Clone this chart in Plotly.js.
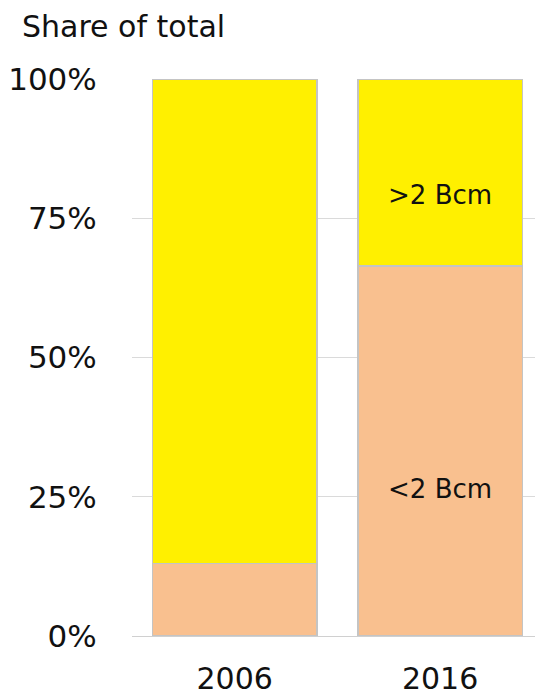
<!DOCTYPE html>
<html><head><meta charset="utf-8">
<script src="https://cdn.plot.ly/plotly-3.0.1.min.js"></script>
<style>html,body{margin:0;padding:0;background:#fff}</style>
</head><body>
<div id="chart" style="width:537px;height:696px"></div>
<script>
const years = ["2006", "2016"];
const below2 = [13, 66.4];
const above2 = [87, 33.6];
const tickValues = [0, 25, 50, 75, 100];
const tickLabels = ["0%", "25%", "50%", "75%", "100%"];
const segmentLabels = ["&gt;2 Bcm", "&lt;2 Bcm"];
const labelX = ["2016", "2016"];
const labelY = [78.8, 26.0];
const font = "DejaVu Sans, sans-serif";
const outline = {color: "#c4c4c4", width: 1.5};

const traces = [
  {type: "bar", x: years, y: below2, name: "below", width: 0.8,
   marker: {color: "#F9C08F", line: outline}, hoverinfo: "none"},
  {type: "bar", x: years, y: above2, name: "above", width: 0.8,
   marker: {color: "#FFF000", line: outline}, hoverinfo: "none"},
  {type: "scatter", mode: "text", x: labelX, y: labelY, text: segmentLabels,
   textposition: "middle center", textfont: {size: 26, color: "#111", family: font},
   hoverinfo: "none", cliponaxis: false}
];

const layout = {
  width: 537, height: 696, barmode: "stack", showlegend: false,
  margin: {l: 132, r: 2, t: 79, b: 60},
  paper_bgcolor: "#fff", plot_bgcolor: "#fff",
  font: {family: font, color: "#111", size: 30},
  title: {text: "Share of total", xref: "container", yref: "container",
          x: 22/537, xanchor: "left", y: 1 - 26/696, yanchor: "middle",
          font: {family: font, size: 30, color: "#111"}},
  xaxis: {type: "category", range: [-0.5, 1.462], showgrid: false,
          ticks: "outside", ticklen: 16, tickcolor: "rgba(0,0,0,0)",
          showline: false, tickfont: {size: 30, family: font}},
  yaxis: {range: [0, 100], tickmode: "array", tickvals: tickValues, ticktext: tickLabels,
          showgrid: true, gridcolor: "#dadada", gridwidth: 1,
          zeroline: true, zerolinecolor: "#d0d0d0", zerolinewidth: 1,
          showline: false, ticks: "outside", ticklen: 28, tickcolor: "rgba(0,0,0,0)",
          tickfont: {size: 31, family: font}}
};
Plotly.newPlot("chart", traces, layout, {displayModeBar: false, staticPlot: true});
</script>
</body></html>
